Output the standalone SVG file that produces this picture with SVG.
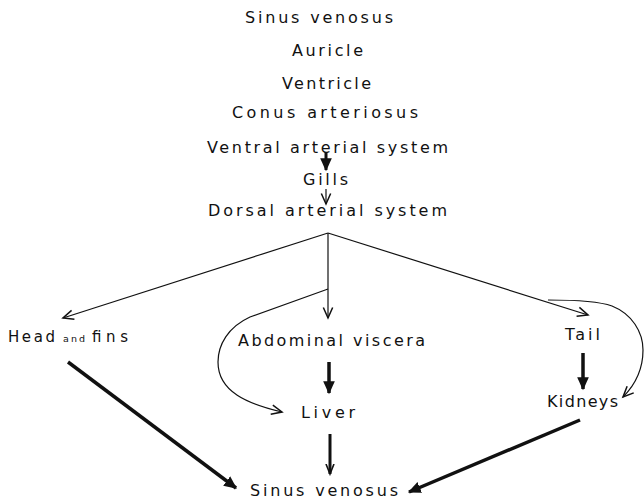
<svg xmlns="http://www.w3.org/2000/svg" width="644" height="500" viewBox="0 0 644 500">
<style>
text{font-family:"DejaVu Sans","Liberation Sans",sans-serif;font-size:16px;fill:#111}
.thin{fill:none;stroke:#111;stroke-width:1.2}
.bold{fill:none;stroke:#111;stroke-width:3.5}
.small{font-size:9.5px}
</style>
<defs>
<marker id="open" markerUnits="userSpaceOnUse" markerWidth="14" markerHeight="14" refX="10" refY="5" orient="auto" viewBox="0 0 12 10">
<path d="M1,1 L10,5 L1,9" fill="none" stroke="#111" stroke-width="1.3"/>
</marker>
<marker id="fill" markerUnits="userSpaceOnUse" markerWidth="14" markerHeight="14" refX="10" refY="5" orient="auto" viewBox="0 0 12 10">
<path d="M0,0 L11,5 L0,10 Z" fill="#111"/>
</marker>
<marker id="vopen" markerUnits="userSpaceOnUse" markerWidth="12" markerHeight="14" refX="10" refY="5" orient="auto" viewBox="0 0 12 10">
<path d="M0,1 L10,5 L0,9" fill="none" stroke="#111" stroke-width="1.6"/>
</marker>
</defs>
<g id="sinus-top"><text x="245" y="23" textLength="148" lengthAdjust="spacing">Sinus venosus</text></g>
<g id="auricle"><text x="292" y="56" textLength="71" lengthAdjust="spacing">Auricle</text></g>
<g id="ventricle"><text x="282" y="89" textLength="89" lengthAdjust="spacing">Ventricle</text></g>
<g id="conus"><text x="232" y="118" textLength="186" lengthAdjust="spacing">Conus arteriosus</text></g>
<g id="ventral"><text x="207" y="153" textLength="241" lengthAdjust="spacing">Ventral arterial system</text></g>
<g id="gills"><text x="303" y="185" textLength="45" lengthAdjust="spacing">Gills</text></g>
<g id="dorsal"><text x="208" y="216" textLength="239" lengthAdjust="spacing">Dorsal arterial system</text></g>
<g id="head"><text x="8" y="342" style="font-size:15px"><tspan x="8" textLength="47" lengthAdjust="spacing">Head</tspan><tspan x="63" class="small" textLength="22" lengthAdjust="spacing">and</tspan><tspan x="92" textLength="36" lengthAdjust="spacing">fins</tspan></text></g>
<g id="abdominal"><text x="238" y="346" textLength="187" lengthAdjust="spacing">Abdominal viscera</text></g>
<g id="tail"><text x="565" y="340" textLength="35" lengthAdjust="spacing">Tail</text></g>
<g id="liver"><text x="301" y="418" textLength="54" lengthAdjust="spacing">Liver</text></g>
<g id="kidneys"><text x="547" y="407" textLength="71" lengthAdjust="spacing">Kidneys</text></g>
<g id="sinus-bottom"><text x="250" y="496" textLength="148" lengthAdjust="spacing">Sinus venosus</text></g>
<g id="connectors">
<line class="bold" x1="326" y1="152" x2="326" y2="170" marker-end="url(#fill)" style="stroke-width:3"/>
<line class="thin" x1="326" y1="189" x2="326" y2="204" marker-end="url(#open)"/>
<line class="thin" x1="328" y1="233" x2="63" y2="318" marker-end="url(#open)"/>
<line class="thin" x1="328" y1="233" x2="328" y2="318" marker-end="url(#open)"/>
<line class="thin" x1="328" y1="233" x2="588" y2="315" marker-end="url(#open)"/>
<path class="thin" d="M328,289 L250,317 C228,327 218,345 218,362 C218,392 248,404 282,412" marker-end="url(#open)"/>
<path class="thin" d="M548,300 C575,300 598,301 612,306 C632,314 643,332 643,350 C643,370 636,384 623,397" marker-end="url(#open)"/>
<line class="bold" x1="329" y1="362" x2="329" y2="393" marker-end="url(#fill)"/>
<line class="bold" x1="583" y1="353" x2="583" y2="389" marker-end="url(#fill)"/>
<line class="bold" x1="330" y1="434" x2="330" y2="474" marker-end="url(#vopen)" style="stroke-width:3"/>
<line class="bold" x1="68" y1="362" x2="236" y2="488" marker-end="url(#fill)"/>
<line class="bold" x1="580" y1="420" x2="409" y2="492" marker-end="url(#fill)"/>
</g>
</svg>
